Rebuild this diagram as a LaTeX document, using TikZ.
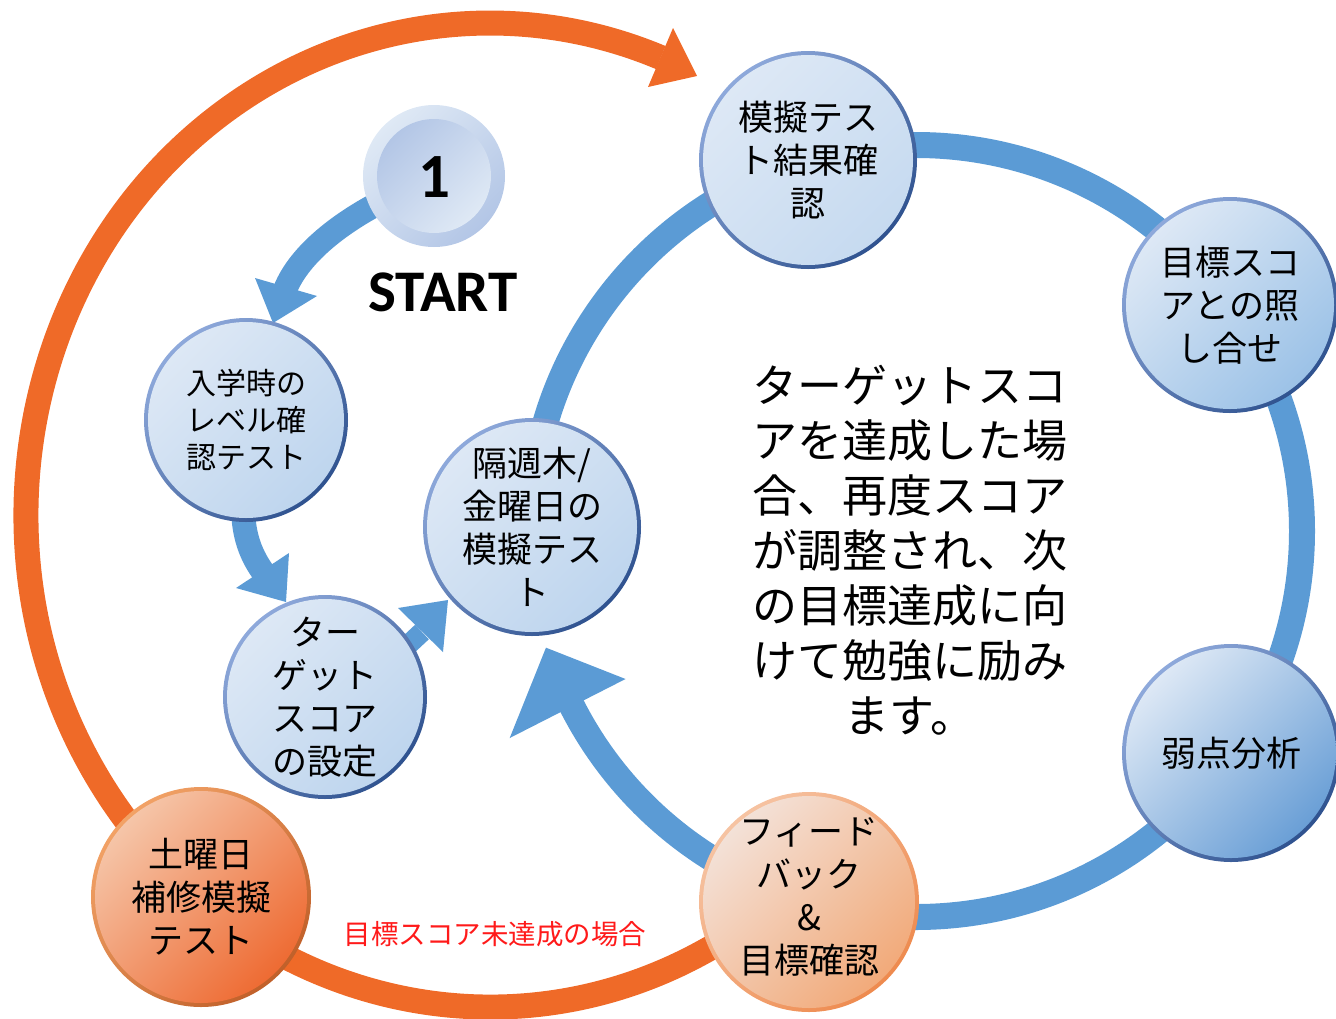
\documentclass[tikz,border=0pt]{standalone}
\usepackage{fontspec}
\setmainfont{Noto Sans CJK JP}
\newfontfamily\calfont{Carlito}
\usetikzlibrary{calc}
\pgfdeclarelayer{bg}
\pgfsetlayers{bg,main}
\definecolor{ringblue}{HTML}{5B9BD5}
\definecolor{ringorange}{HTML}{EF6A28}
\definecolor{bbl}{HTML}{8EA9DB}
\definecolor{bbd}{HTML}{2F528F}
\definecolor{bfl}{HTML}{DDE8F5}
\definecolor{bfd}{HTML}{BED5EE}
\definecolor{resd}{HTML}{C6DAF0}
\definecolor{cmpd}{HTML}{9CC2E7}
\definecolor{weakd}{HTML}{6A9FD6}
\definecolor{sbl}{HTML}{F2A266}
\definecolor{sbd}{HTML}{C0602A}
\definecolor{sfl}{HTML}{F5C5A8}
\definecolor{sfd}{HTML}{EE6B33}
\definecolor{fbl}{HTML}{F6C3A2}
\definecolor{fbd}{HTML}{EE8A4E}
\definecolor{ffl}{HTML}{F3E1D7}
\definecolor{ffd}{HTML}{F2AA7A}
\definecolor{onel}{HTML}{DFE9F5}
\definecolor{oned}{HTML}{B3C6E6}
\definecolor{missred}{HTML}{FF1A1A}
\tikzset{
  ntext/.style={align=center, text=black, inner sep=0pt, font=\fontsize{35}{43}\selectfont},
  smalltext/.style={align=center, text=black, inner sep=0pt, font=\fontsize{30}{37}\selectfont},
  bluearrow/.style={draw=ringblue, line width=24pt},
  thinarrow/.style={draw=ringblue, line width=20pt},
  bluering/.style={draw=ringblue, line width=26pt},
  orangering/.style={draw=ringorange, line width=25pt},
}
\newcommand\mybubble[7]{%
  \node[circle, inner sep=0pt, minimum size={2*#3+4}, top color=#4, bottom color=#5, shading angle=45] (#1) at (#2) {};
  \node[circle, inner sep=0pt, minimum size={2*#3-4}, top color=#6, bottom color=#7, shading angle=45] (#1-in) at (#2) {};
}
\begin{document}
\begin{tikzpicture}[x=1pt,y=1pt]
\useasboundingbox (0,0) rectangle (1336,-1018);
\coordinate (ringc) at (916,-531);
\coordinate (ovalc) at (490,-515);

% start badge
\node[circle, inner sep=0pt, minimum size=142, top color=onel, bottom color=oned, shading angle=45] (one) at (434,-176) {};
\node[circle, inner sep=0pt, minimum size=114, top color=oned, bottom color=onel, shading angle=45] (one-in) at (one) {};
\node[font=\calfont\bfseries\fontsize{63}{64}\selectfont, inner sep=0pt] (one-t) at (434,-177) {1};
\node[font=\calfont\bfseries\fontsize{59}{60}\selectfont, inner sep=0pt] (start) at (443,-292) {START};

% bubbles
\mybubble{lv}{246,-420}{100}{bbl}{bbd}{bfl}{bfd}
\mybubble{tg}{325,-697}{100}{bbl}{bbd}{bfl}{bfd}
\mybubble{wk}{532,-527}{107}{bbl}{bbd}{bfl}{bfd}
\mybubble{res}{808,-160}{107}{bbl}{bbd}{bfl}{resd}
\mybubble{cmp}{1230,-305}{106}{bbl}{bbd}{bfl}{cmpd}
\mybubble{weak}{1231,-753}{107}{bbl}{bbd}{bfl}{weakd}
\mybubble{fb}{809,-902}{108}{fbl}{fbd}{ffl}{ffd}
\mybubble{sat}{201,-897}{108}{sbl}{sbd}{sfl}{sfd}

% texts
\node[smalltext] (lv-t) at (lv) {入学時の\\レベル確\\認テスト};
\node[ntext] (tg-t) at (tg) {ター\\ゲット\\スコア\\の設定};
\node[ntext] (wk-t) at (wk) {隔週木/\\金曜日の\\模擬テス\\ト};
\node[ntext] (res-t) at (res) {模擬テス\\ト結果確\\認};
\node[ntext] (cmp-t) at (cmp) {目標スコ\\アとの照\\し合せ};
\node[ntext] (weak-t) at (weak) {弱点分析};
\node[ntext] (fb-t) at ($(fb)+(0,5)$) {フィード\\バック\\\&\\目標確認};
\node[ntext] (sat-t) at (sat) {土曜日\\補修模擬\\テスト};

\node[align=center, inner sep=0pt, font=\fontsize{45}{55}\selectfont] (desc) at (910,-550)
  {ターゲットスコ\\アを達成した場\\合、再度スコア\\が調整され、次\\の目標達成に向\\けて勉強に励み\\ます。};
\node[inner sep=0pt, text=missred, font=\fontsize{27.5}{30}\selectfont] (miss) at (495,-934) {目標スコア未達成の場合};

\coordinate (a1b) at (285,-290);
\coordinate (a2b) at (263,-572);
\coordinate (a3b) at (422,-632);

\begin{pgfonlayer}{bg}
% orange loop
\draw[orangering] (ovalc) ++(-58:464 and 492) arc[start angle=-58, end angle=-291.6, x radius=464, y radius=492];
\fill[ringorange] (673,-28) -- (697,-76) -- (648,-87) -- cycle;
% blue ring
\draw[bluering] (ringc) ++(180:386) arc[start angle=180, end angle=-153.5, radius=386];
\fill[ringblue] ($(ringc)+(207:326)$) -- ($(ringc)+(197.5:388)$) -- ($(ringc)+(207:456)$) -- cycle;
% start -> level test
\draw[bluearrow] ($(one.center)+(206:55)$) .. controls (345,-220) and (300,-252) .. (a1b);
\fill[ringblue] (255,-278) -- (273,-323) -- (317,-296) -- cycle;
% level test -> target
\draw[bluearrow] ($(lv.center)+(-3,-85)$) .. controls (243,-530) and (248,-551) .. (a2b);
\fill[ringblue] (236,-588) -- (286,-602) -- (289,-553) -- cycle;
% target -> biweekly
\draw[thinarrow] ($(tg.center)+(68,38)$) -- (a3b);
\fill[ringblue] (398,-608) -- (448,-600) -- (443,-652) -- cycle;
\end{pgfonlayer}
\end{tikzpicture}
\end{document}
